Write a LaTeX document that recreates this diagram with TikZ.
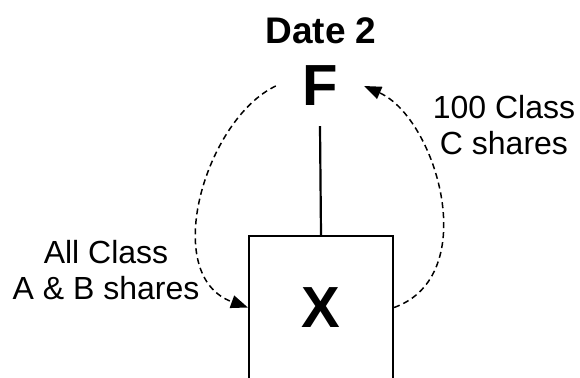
\documentclass[tikz,border=0pt]{standalone}
\usepackage{fontspec}
\setmainfont{Liberation Sans}
\usetikzlibrary{arrows.meta}

\begin{document}
\begin{tikzpicture}[x=1pt, y=-1pt,
        flow/.style={dash pattern=on 6pt off 4pt, line width=1.5pt, -{Triangle[length=17pt, width=13pt]}},
        lbl/.style={align=center, font=\fontsize{32}{36}\selectfont},
        big/.style={font=\bfseries\fontsize{58}{60}\selectfont, inner sep=0pt}]
        \useasboundingbox (0, 0) rectangle (580, 377);
        \clip (0, 0) rectangle (580, 377);
        % Date 2
        \node[font=\bfseries\fontsize{37}{40}\selectfont] (date) at (321, 30.5) {Date 2};
        \node[big, minimum width=88pt, minimum height=80pt] (F) at (320, 86) {F};
        \node[big, draw, line width=2.2pt, minimum width=144pt, minimum height=143pt] (X) at (321, 307.5) {X};
        \node[lbl] (AB) at (106, 270) {All Class\\A \& B shares};
        \node[lbl] (C) at (504, 125) {100 Class\\C shares};

        \draw[line width=2.2pt] (F.south) -- (X.north);
        \draw[flow] (F.west) .. controls +(-70, 33) and +(-89, -32) .. (X.west);
        \draw[flow] (X.east) .. controls +(89, -32) and +(72, 32) .. (F.east);
    \end{tikzpicture}
\end{document}
